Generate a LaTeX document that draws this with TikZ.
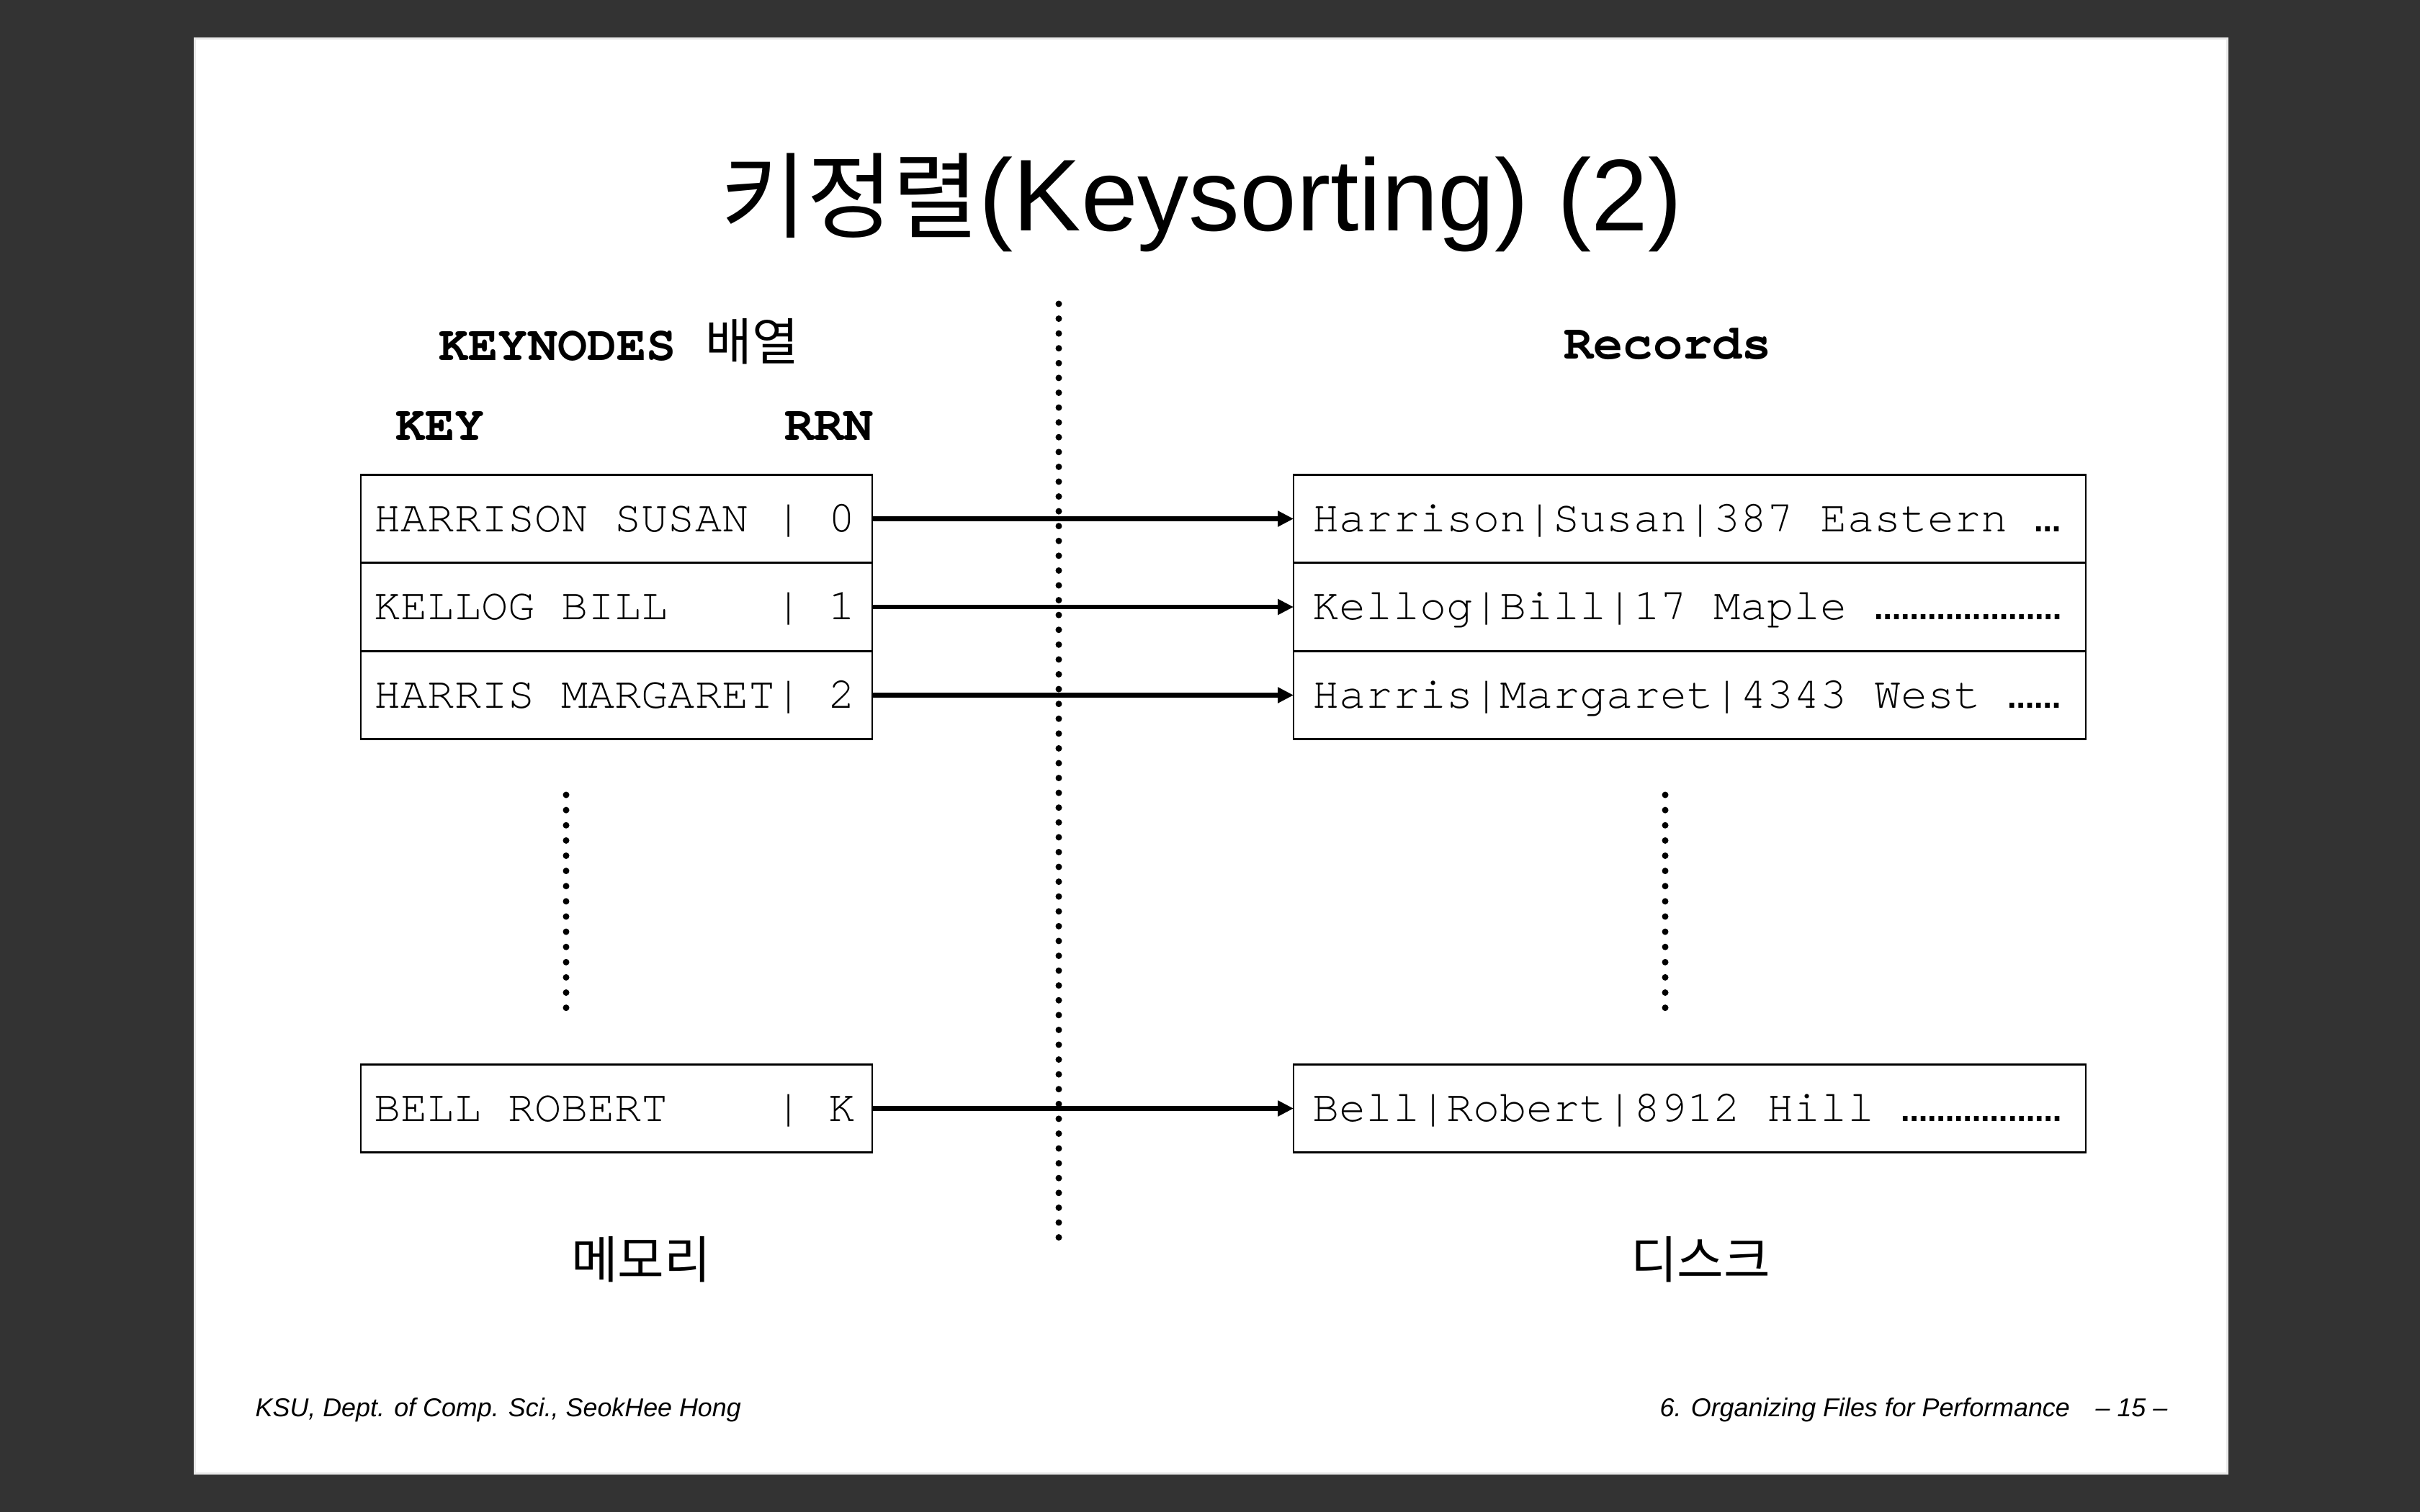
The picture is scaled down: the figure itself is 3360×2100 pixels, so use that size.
\documentclass[tikz,border=0pt]{standalone}
\usepackage{fontspec}
\setmainfont{Liberation Sans}
\setmonofont{TeX Gyre Cursor}
\newfontfamily\kr{Noto Sans CJK KR}
\newfontfamily\dotface{DejaVu Sans}
\usetikzlibrary{arrows.meta}
\definecolor{deskgray}{RGB}{51,51,51}
\definecolor{rimgray}{RGB}{234,234,234}
% small bold ellipsis used for truncated record fields
\newcommand\recdots[1]{{\dotface\bfseries\fontsize{10.6pt}{12pt}\selectfont#1}}

\begin{document}
\begin{tikzpicture}[x=0.1mm,y=-0.1mm,
  keybox/.style={draw, line width=0.27mm, minimum width=71mm, minimum height=12.25mm, inner sep=0pt, outer sep=0pt},
  recbox/.style={keybox, minimum width=110mm},
  celltext/.style={anchor=base west, inner sep=0pt, font=\ttfamily\fontsize{17.6pt}{20pt}\selectfont},
  head/.style={anchor=base west, inner sep=0pt, font=\ttfamily\bfseries\fontsize{19.5pt}{22pt}\selectfont},
  krlabel/.style={anchor=base, inner sep=0pt, font=\kr\fontsize{20pt}{24pt}\selectfont},
  foot/.style={inner sep=0pt, font=\itshape\fontsize{10.2pt}{12pt}\selectfont},
  link/.style={line width=0.65mm, -{Triangle[length=2.2mm,width=2.1mm]}},
  dotrule/.style={line width=0.9mm, line cap=round, dash pattern=on 0pt off 2.058mm},
]
% page and slide
\fill[deskgray] (0,0) rectangle (3360,2100);
\useasboundingbox (0,0) rectangle (3360,2100);
\draw[rimgray, line width=0.3mm, fill=white] (270.5,53.5) rectangle (3092.5,2046.5);

% title
\node[anchor=base, inner sep=0pt] (title) at (1668,321)
  {{\kr\fontsize{37pt}{42pt}\selectfont 키정렬}{\fontsize{40.3pt}{45pt}\selectfont (Keysorting) (2)}};

% column headings
\node[head] (hkeynodes) at (609,500) {KEYNODES {\kr\mdseries\fontsize{20pt}{24pt}\selectfont 배열}};
\node[head] (hkey) at (549,611) {KEY};
\node[head] (hrrn) at (1089,611) {RRN};
\node[head] (hrec) at (2171,499) {Records};

% memory/disk divider
\draw[dotrule] (1470,422) -- (1470,1719);

% key array in memory
\node[keybox] (k0) at (856,720.5) {};
\node[keybox] (k1) at (856,843) {};
\node[keybox] (k2) at (856,965.5) {};
\node[keybox] (kK) at (856,1539.5) {};
\node[celltext] (kt0) at (519,738) {HARRISON SUSAN | 0};
\node[celltext] (kt1) at (519,860.5) {KELLOG BILL~~~~| 1};
\node[celltext] (kt2) at (519,983) {HARRIS MARGARET| 2};
\node[celltext] (ktK) at (519,1557) {BELL ROBERT~~~~| K};

% records on disk
\node[recbox] (r0) at (2346,720.5) {};
\node[recbox] (r1) at (2346,843) {};
\node[recbox] (r2) at (2346,965.5) {};
\node[recbox] (rK) at (2346,1539.5) {};
\node[celltext] (rt0) at (1822,738) {Harrison|Susan|387 Eastern \recdots{…}};
\node[celltext] (rt1) at (1822,860.5) {Kellog|Bill|17 Maple \recdots{…………………}};
\node[celltext] (rt2) at (1822,983) {Harris|Margaret|4343 West \recdots{……}};
\node[celltext] (rtK) at (1822,1557) {Bell|Robert|8912 Hill \recdots{………………}};

% elided entries
\draw[dotrule, dash pattern=on 0pt off 2.112mm] (786,1104) -- (786,1400);
\draw[dotrule, dash pattern=on 0pt off 2.112mm] (2312,1104) -- (2312,1400);

% RRN links
\draw[link] (k0.east) -- (r0.west);
\draw[link] (k1.east) -- (r1.west);
\draw[link] (k2.east) -- (r2.west);
\draw[link] (kK.east) -- (rK.west);

% location labels
\node[krlabel] (mem) at (890,1775) {메모리};
\node[krlabel] (disk) at (2361,1775) {디스크};

% footer
\node[foot, anchor=base west] (fleft) at (354,1967) {KSU, Dept. of Comp. Sci., SeokHee Hong};
\node[foot, anchor=base west] (fright) at (2304,1967) {6. Organizing Files for Performance};
\node[foot, anchor=base east] (fpage) at (3010,1967) {– 15 –};
\end{tikzpicture}
\end{document}
